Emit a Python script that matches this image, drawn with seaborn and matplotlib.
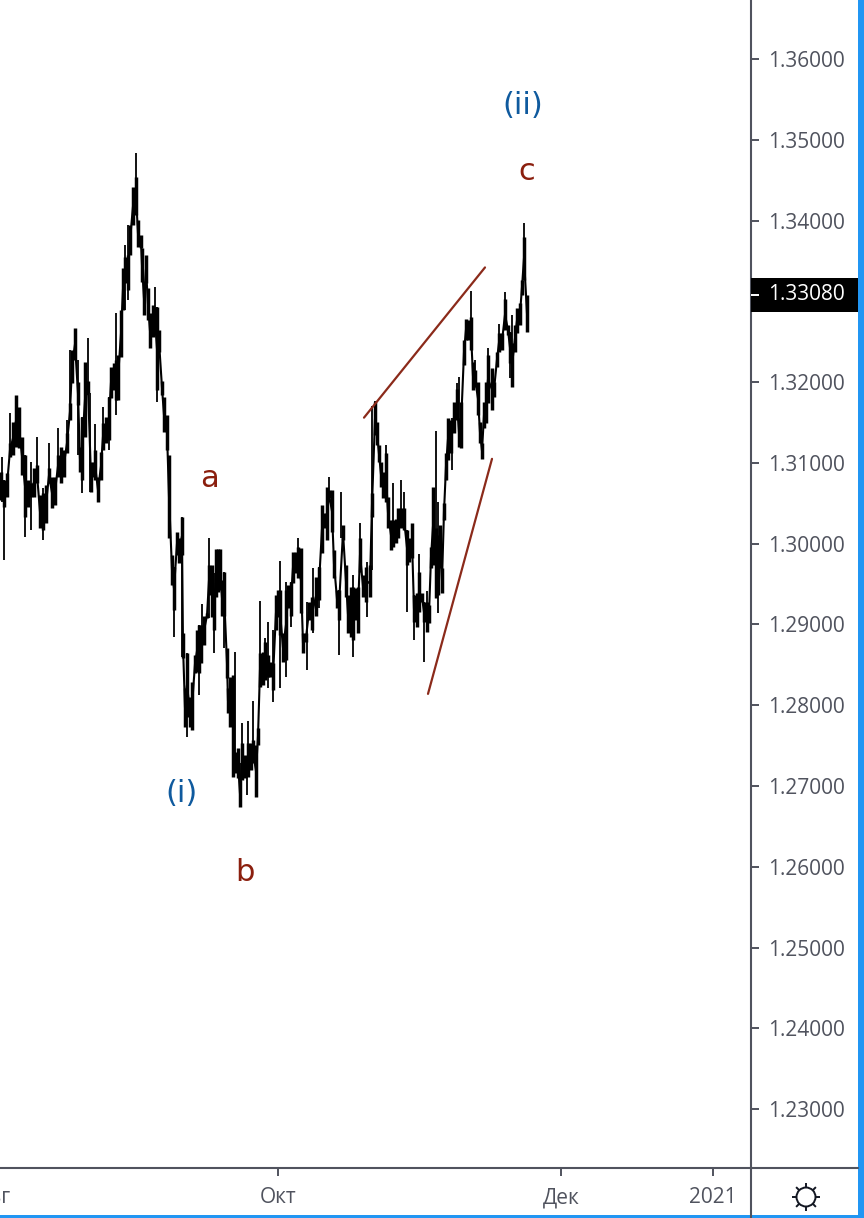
# Price chart with wave labels, redrawn with seaborn
import pandas as pd
import numpy as np
import matplotlib.pyplot as plt
import seaborn as sns
from matplotlib.lines import Line2D
from matplotlib.patches import Rectangle, Circle
from matplotlib.transforms import blended_transform_factory

# Bar bodies: bar number, top and bottom price
body_bar = [1,4,7,10,13,16,19,22,25,28,31,34,37,40,43,46,49,52,55,58,61,64,67,70,72,75,78,80,82,85,88,91,94,95,98,101,103,106,109,111,114,116,118,121,123,125,128,130,133,136,138,141,142,144,146,148,150,153,155,157,159,162,164,167,169,172,174,177,179,182,183,185,187,190,192,195,197,199,201,204,207,209,212,214,216,218,220,222,224,227,228,230,233,235,238,240,242,245,248,251,253,256,258,260,263,265,268,270,273,276,278,280,283,286,288,291,293,296,298,301,303,306,309,312,316,319,322,324,327,329,332,334,337,339,343,346,348,351,353,356,358,360,363,366,370,372,375,377,379,381,383,386,388,391,393,396,398,401,404,407,409,412,414,417,419,422,424,427,429,431,433,436,438,440,442,444,446,448,451,454,457,459,461,464,466,468,471,473,475,478,480,482,484,486,488,492,494,497,499,502,505,508,510,512,515,517,520,522,524,527]
body_top = [1.3089,1.3079,1.3087,1.3125,1.3151,1.3184,1.3169,1.3132,1.3110,1.3079,1.3075,1.3094,1.3097,1.3060,1.3063,1.3073,1.3094,1.3082,1.3082,1.3110,1.3120,1.3116,1.3137,1.3174,1.3240,1.3267,1.3200,1.3120,1.3157,1.3225,1.3202,1.3101,1.3101,1.3116,1.3082,1.3113,1.3149,1.3157,1.3181,1.3219,1.3224,1.3227,1.3233,1.3289,1.3341,1.3355,1.3357,1.3394,1.3441,1.3454,1.3401,1.3382,1.3366,1.3324,1.3357,1.3316,1.3285,1.3295,1.3293,1.3293,1.3264,1.3202,1.3181,1.3159,1.3110,1.2986,1.2971,1.3014,1.3007,1.3033,1.2889,1.2821,1.2865,1.2810,1.2829,1.2862,1.2893,1.2899,1.2899,1.2911,1.2914,1.2973,1.2973,1.2936,1.2994,1.2994,1.2994,1.2955,1.2965,1.2871,1.2821,1.2835,1.2837,1.2742,1.2747,1.2707,1.2753,1.2738,1.2753,1.2753,1.2757,1.2751,1.2772,1.2865,1.2866,1.2878,1.2862,1.2853,1.2852,1.2936,1.2943,1.2943,1.2889,1.2943,1.2949,1.2952,1.2990,1.2990,1.2996,1.2995,1.2889,1.2889,1.2928,1.2934,1.2959,1.2971,1.3048,1.3038,1.3070,1.3066,1.3066,1.2992,1.2943,1.2943,1.3023,1.2973,1.2936,1.2946,1.2946,1.2945,1.2946,1.3007,1.2961,1.2971,1.2973,1.3063,1.3175,1.3151,1.3122,1.3101,1.3089,1.3112,1.3058,1.3029,1.3029,1.3031,1.3044,1.3044,1.3044,1.3017,1.3007,1.3026,1.2936,1.2939,1.2965,1.2939,1.2928,1.2928,1.2924,1.2996,1.3070,1.3019,1.3011,1.3023,1.2970,1.3050,1.3112,1.3156,1.3153,1.3175,1.3192,1.3156,1.3175,1.3252,1.3278,1.3277,1.3281,1.3225,1.3215,1.3200,1.3151,1.3125,1.3175,1.3200,1.3233,1.3217,1.3200,1.3237,1.3261,1.3261,1.3303,1.3271,1.3262,1.3248,1.3271,1.3292,1.3298,1.3327,1.3380,1.3308]
body_bottom = [1.3054,1.3045,1.3058,1.3107,1.3110,1.3120,1.3118,1.3085,1.3033,1.3045,1.3058,1.3058,1.3075,1.3019,1.3017,1.3026,1.3075,1.3044,1.3048,1.3082,1.3075,1.3082,1.3112,1.3153,1.3199,1.3227,1.3172,1.3089,1.3079,1.3132,1.3186,1.3064,1.3082,1.3079,1.3051,1.3079,1.3116,1.3125,1.3128,1.3180,1.3190,1.3178,1.3178,1.3231,1.3289,1.3323,1.3314,1.3357,1.3394,1.3407,1.3367,1.3366,1.3324,1.3283,1.3323,1.3277,1.3242,1.3256,1.3261,1.3190,1.3237,1.3184,1.3138,1.3116,1.3007,1.2949,1.2918,1.2986,1.2976,1.2986,1.2858,1.2773,1.2785,1.2773,1.2769,1.2840,1.2841,1.2840,1.2852,1.2874,1.2908,1.2936,1.2909,1.2893,1.2934,1.2940,1.2943,1.2911,1.2911,1.2834,1.2790,1.2773,1.2711,1.2716,1.2710,1.2674,1.2707,1.2710,1.2711,1.2720,1.2728,1.2686,1.2751,1.2823,1.2825,1.2831,1.2835,1.2835,1.2819,1.2893,1.2909,1.2887,1.2853,1.2856,1.2920,1.2911,1.2951,1.2964,1.2957,1.2914,1.2865,1.2878,1.2905,1.2893,1.2911,1.2930,1.2988,1.3019,1.3005,1.3056,1.3014,1.2958,1.2920,1.2905,1.3005,1.2934,1.2889,1.2884,1.2881,1.2905,1.2889,1.2965,1.2934,1.2928,1.2934,1.3033,1.3134,1.3122,1.3101,1.3070,1.3056,1.3051,1.3019,1.2992,1.2996,1.3001,1.3007,1.3020,1.3017,1.2973,1.2977,1.2982,1.2903,1.2897,1.2915,1.2928,1.2903,1.2891,1.2902,1.2970,1.2973,1.2933,1.2936,1.2970,1.2939,1.3029,1.3079,1.3103,1.3112,1.3137,1.3153,1.3120,1.3118,1.3221,1.3252,1.3252,1.3240,1.3190,1.3194,1.3159,1.3125,1.3105,1.3143,1.3149,1.3174,1.3165,1.3181,1.3219,1.3237,1.3240,1.3264,1.3258,1.3224,1.3194,1.3237,1.3261,1.3271,1.3308,1.3327,1.3262]

# Thin high-low wicks
wick_bar = [2,4,10,25,31,37,43,49,58,67,70,78,82,88,90,95,103,109,116,125,128,136,155,157,174,182,187,199,202,209,214,224,235,240,242,247,248,253,260,265,268,273,280,286,291,298,307,313,319,329,339,341,353,360,367,372,375,386,393,401,404,407,414,419,424,427,436,438,452,457,459,471,475,488,499,505,510,512,524]
wick_high = [1.3107,1.3079,1.3162,1.3110,1.3101,1.3132,1.3069,1.3125,1.3143,1.3153,1.3240,1.3227,1.3157,1.3255,1.3186,1.3148,1.3169,1.3181,1.3285,1.3370,1.3394,1.3484,1.3318,1.3293,1.2971,1.3033,1.2865,1.2899,1.2925,1.3007,1.2964,1.2965,1.2866,1.2728,1.2778,1.2736,1.2780,1.2805,1.2929,1.2883,1.2903,1.2893,1.2979,1.2952,1.2952,1.3007,1.2928,1.2970,1.2971,1.3082,1.2943,1.3064,1.2961,1.3025,1.2977,1.3171,1.3177,1.3122,1.3075,1.3079,1.3064,1.3017,1.2936,1.2987,1.2928,1.2942,1.3139,1.3052,1.3156,1.3199,1.3206,1.3313,1.3227,1.3242,1.3272,1.3311,1.3262,1.3283,1.3397]
wick_low = [1.3051,1.2980,1.3107,1.3008,1.3017,1.3075,1.3005,1.3075,1.3082,1.3112,1.3153,1.3110,1.3063,1.3186,1.3064,1.3079,1.3116,1.3116,1.3159,1.3289,1.3302,1.3407,1.3261,1.3175,1.2884,1.2860,1.2761,1.2813,1.2852,1.2908,1.2865,1.2871,1.2716,1.2674,1.2707,1.2689,1.2711,1.2728,1.2823,1.2831,1.2821,1.2804,1.2821,1.2835,1.2897,1.2957,1.2844,1.2889,1.2920,1.3056,1.2862,1.3007,1.2860,1.2965,1.2909,1.2967,1.3134,1.3051,1.2996,1.3020,1.3017,1.2915,1.2881,1.2915,1.2853,1.2891,1.2933,1.2914,1.3091,1.3153,1.3120,1.3240,1.3194,1.3174,1.3237,1.3264,1.3205,1.3194,1.3327]

# Trend lines drawn on the chart
upper_bar = [364, 485]
upper_price = [1.3156, 1.3342]
lower_bar = [428, 492]
lower_price = [1.2814, 1.3105]

# Wave labels
wave_text = ['(ii)', 'c', 'a', '(i)', 'b']
wave_bar = [523, 527, 209, 182, 245]
wave_price = [1.3543, 1.3461, 1.3081, 1.2691, 1.2593]
wave_color = ['#0f5a9e', '#8b1f0e', '#8b1f0e', '#0f5a9e', '#8b1f0e']

# Axis ticks, 1.33 sits under the last price box
price_ticks = [1.23, 1.24, 1.25, 1.26, 1.27, 1.28, 1.29, 1.30, 1.31, 1.32, 1.34, 1.35, 1.36]
time_ticks = [278, 561, 713]
time_labels = ['Окт', 'Дек', '2021']
last_price = 1.3308

axis_color = '#50535e'
label_size = 15
sns.set_theme(style='white')
plt.rcParams['font.family'] = ['Open Sans', 'DejaVu Sans']

W, H = 864, 1218
fig = plt.figure(figsize=(W / 100, H / 100), dpi=100, facecolor='white')
ax = fig.add_axes([0, (H - 1168) / H, 751 / W, 1168 / H])

# Long tables, two rows for each bar
bodies = pd.DataFrame({'bar': body_bar * 2, 'price': body_top + body_bottom})
wicks = pd.DataFrame({'bar': wick_bar * 2, 'price': wick_high + wick_low})
closes = pd.DataFrame({'bar': body_bar, 'price': (np.array(body_top) + np.array(body_bottom)) / 2})

sns.lineplot(data=wicks, x='bar', y='price', units='bar', estimator=None, sort=False,
             color='black', linewidth=1.3, solid_capstyle='butt', ax=ax)
# Joins the bars so the price runs as one solid band
sns.lineplot(data=closes, x='bar', y='price', estimator=None, sort=False,
             color='black', linewidth=1.5, ax=ax)
sns.lineplot(data=bodies, x='bar', y='price', units='bar', estimator=None, sort=False,
             color='black', linewidth=2.5, solid_capstyle='butt', ax=ax)

for xs, ys in [(upper_bar, upper_price), (lower_bar, lower_price)]:
    sns.lineplot(x=xs, y=ys, color='#8b2a1a', linewidth=1.6, ax=ax)

for t, x, y, c in zip(wave_text, wave_bar, wave_price, wave_color):
    ax.text(x, y, t, color=c, fontsize=22, ha='center', va='center', family='DejaVu Sans')

ax.set_xlim(0, 751)
ax.set_ylim(1.22270, 1.36731)
ax.set_xlabel('')
ax.set_ylabel('')

# Axes look
for side in ['top', 'left']:
    ax.spines[side].set_visible(False)
for side in ['right', 'bottom']:
    ax.spines[side].set_color(axis_color)
    ax.spines[side].set_linewidth(1.5)

ax.yaxis.tick_right()
ax.set_yticks(price_ticks)
ax.set_yticklabels(['%.5f' % p for p in price_ticks])
ax.set_xticks(time_ticks)
ax.set_xticklabels(time_labels)
ax.tick_params(axis='y', length=5.8, width=1.4, color=axis_color, labelcolor=axis_color,
               labelsize=label_size, pad=6.5, right=True)
ax.tick_params(axis='x', length=5.8, width=1.4, color=axis_color, labelcolor=axis_color,
               labelsize=label_size, pad=8, bottom=True)

# The month label cut off at the left edge
ax.text(-7, -0.025, 'Авг', transform=blended_transform_factory(ax.transData, ax.transAxes),
        color=axis_color, fontsize=label_size, ha='center', va='center', clip_on=False)

# Last price box
box_tf = blended_transform_factory(ax.transAxes, ax.transData)
ax.add_patch(Rectangle((1, 1.3287), 107 / 751, 1.3329 - 1.3287, transform=box_tf,
                       facecolor='black', edgecolor='none', clip_on=False, zorder=5))
ax.plot([1, 1 + 8 / 751], [last_price, last_price], transform=box_tf, color='white',
        linewidth=1.4, solid_capstyle='butt', clip_on=False, zorder=6)
ax.text(1 + 17 / 751, last_price, '%.5f' % last_price, transform=box_tf, color='white',
        fontsize=label_size, va='center', ha='left', clip_on=False, zorder=6)

# Frame lines below and beside the axes
fig.add_artist(Line2D([751 / W, 751 / W], [0, 50 / H], color=axis_color, linewidth=1.5))
fig.add_artist(Line2D([751 / W, 858 / W], [50 / H, 50 / H], color=axis_color, linewidth=1.5))

# Blue window edge on the right and at the bottom
fig.add_artist(Rectangle((858 / W, 0), 6 / W, 1, transform=fig.transFigure, facecolor='#2196f3', edgecolor='none'))
fig.add_artist(Rectangle((0, 0), 1, 3 / H, transform=fig.transFigure, facecolor='#2196f3', edgecolor='none'))

# Sun icon in the corner
icon = fig.add_axes([(806 - 16) / W, (H - 1197 - 16) / H, 32 / W, 32 / H])
icon.set_xlim(-16, 16)
icon.set_ylim(-16, 16)
icon.axis('off')
icon.add_patch(Circle((0, 0), 9.5, fill=False, edgecolor='#131722', linewidth=1.4))
for a in np.arange(8) * np.pi / 4:
    icon.plot([9.5 * np.cos(a), 14 * np.cos(a)], [9.5 * np.sin(a), 14 * np.sin(a)],
              color='#131722', linewidth=1.4, solid_capstyle='butt')

fig.savefig('out.png', dpi=100)
